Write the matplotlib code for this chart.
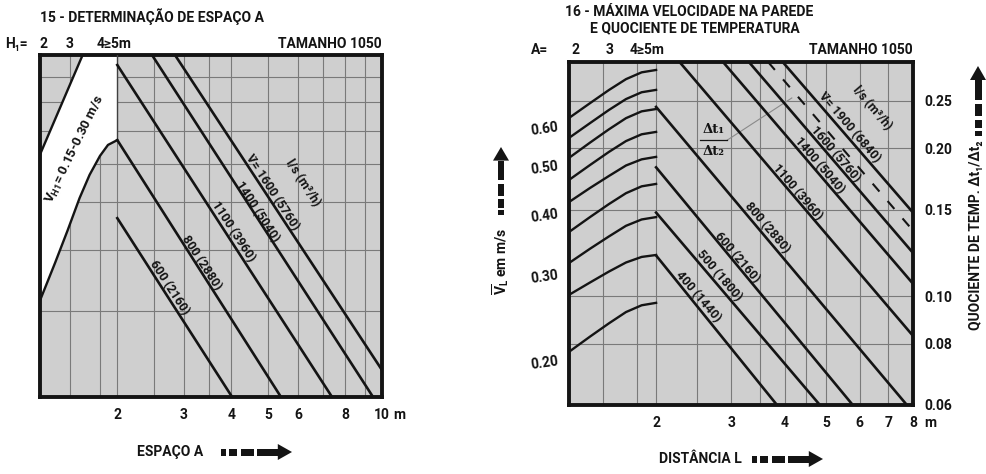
"""
Nomograms 15 and 16 (TAMANHO 1050): espaço A and max. wall velocity.
"""

import matplotlib.pyplot as plt
from matplotlib.patches import Polygon

plt.rcParams['font.family'] = ['Roboto', 'DejaVu Sans']
plt.rcParams['font.weight'] = 'bold'
plt.rcParams['mathtext.default'] = 'regular'

W, H = 986, 474

# ---- chart 15: espaco A ----
a_lim = [1.25, 10]
a_ticks = [2, 3, 4, 5, 6, 8, 10]
a_grid = [1.5, 1.8, 2, 2.5, 3, 3.5, 4, 5, 6, 7, 8, 9]
h_lim = [2, 10]
h_grid = [3, 4, 5, 6, 7, 8, 9]

# white band V_H1 = 0.15-0.30 m/s
band_x = [1.25, 1.62]
band_y = [6.26, 10]
band_curve_x = [1.25, 1.37, 1.48, 1.59, 1.69, 1.80, 1.89, 2.0]
band_curve_y = [3.15, 3.76, 4.39, 5.10, 5.69, 6.22, 6.55, 6.70]

flow15 = ['600 (2160)', '800 (2880)', '1100 (3960)', '1400 (5040)',
          'V\u0307= 1600 (5760)']
flow15_x0 = [2.0, 2.0, 2.0, 2.47, 2.84]
flow15_y0 = [4.64, 6.70, 9.54, 10, 10]
flow15_x1 = [4.02, 5.41, 7.38, 9.47, 10]
flow15_y1 = [2, 2, 2, 2, 2.27]
flow15_lx = [2.74, 3.33, 4.06, 4.70, 5.12]
flow15_ly = [3.34, 3.76, 4.35, 4.78, 5.25]

# ---- chart 16: max. velocidade / quociente ----
l_lim = [1.25, 8]
l_ticks = [2, 3, 4, 5, 6, 7, 8]
l_grid = [1.5, 1.8, 2, 2.5, 3, 3.5, 4, 4.5, 5, 6, 7]
q_lim = [0.06, 0.30]
q_ticks = [0.06, 0.08, 0.10, 0.15, 0.20, 0.25]
q_grid = [0.08, 0.10, 0.15, 0.20, 0.25]
v_ticks = [0.20, 0.30, 0.40, 0.50, 0.60]
v_per_q = 2.7

# curves left of L = 2 m
curve_x = [1.25, 1.4, 1.55, 1.7, 1.85, 2.0]
curve_a = [0.2307, 0.2473, 0.2630, 0.2768, 0.2858, 0.2890]
curve_b = [0.2101, 0.2252, 0.2395, 0.2521, 0.2603, 0.2632]
curve_c = [0.1913, 0.2055, 0.2187, 0.2305, 0.2380, 0.2406]
curve_d = [0.1725, 0.1850, 0.1967, 0.2070, 0.2137, 0.2161]
curve_e = [0.1555, 0.1661, 0.1757, 0.1846, 0.1900, 0.1922]
curve_f = [0.1351, 0.1449, 0.1540, 0.1621, 0.1674, 0.1693]
curve_g = [0.1168, 0.1249, 0.1323, 0.1391, 0.1433, 0.1449]
curve_h = [0.1006, 0.1066, 0.1122, 0.1171, 0.1202, 0.1213]
curve_i = [0.0770, 0.0827, 0.0880, 0.0928, 0.0958, 0.0969]

flow16 = ['400 (1440)', '500 (1800)', '600 (2160)', '800 (2880)',
          '1100 (3960)', '1400 (5040)', '1600 (5760)', 'V\u0307= 1900 (6840)']
flow16_x0 = [2.0, 2.0, 2.0, 2.0, 2.27, 2.87, 3.30, 3.96]
flow16_y0 = [0.121, 0.148, 0.183, 0.243, 0.30, 0.30, 0.30, 0.30]
flow16_x1 = [3.84, 4.84, 5.78, 7.74, 8, 8, 8, 8]
flow16_y1 = [0.06, 0.06, 0.06, 0.06, 0.083, 0.106, 0.1225, 0.148]
flow16_lx = [2.51, 2.81, 3.09, 3.64, 4.28, 4.84, 5.25, 5.69]
flow16_ly = [0.100, 0.110, 0.120, 0.138, 0.163, 0.185, 0.195, 0.221]
quot_x = [3.66, 8]
quot_y = [0.30, 0.136]

ink = '#141414'
gridc = '#7a7a7a'
bg = '#cfcfcf'


def box(px0, py0, px1, py1):
    return [px0 / W, 1 - py1 / H, (px1 - px0) / W, (py1 - py0) / H]


def ftext(px, py, s, **kw):
    kw.setdefault('fontsize', 10)
    kw.setdefault('va', 'center')
    fig.text(px / W, 1 - py / H, s, color=ink, **kw)


def dash_arrow(px, py, length, up=False):
    """Dashed block arrow, px/py = tail centre in pixels."""
    pieces = [(0, .07), (.11, .23), (.28, .46), (.51, .80)]
    half, head = 3.5, 8
    polys = []
    for a, b in pieces:
        polys.append([(a, -half), (b, -half), (b, half), (a, half)])
    polys.append([(.80, -head), (1.0, 0), (.80, head)])
    for pts in polys:
        if up:
            xy = [((px + o) / W, 1 - (py - t * length) / H) for t, o in pts]
        else:
            xy = [((px + t * length) / W, 1 - (py + o) / H) for t, o in pts]
        fig.add_artist(Polygon(xy, closed=True, color=ink, lw=0))


fig = plt.figure(figsize=(W / 100, H / 100), dpi=100)
ax15 = fig.add_axes(box(40, 55, 382, 397))
ax16 = fig.add_axes(box(569, 62, 913, 405))

for ax in (ax15, ax16):
    ax.set_facecolor(bg)
    ax.set_xscale('log')
    ax.set_yscale('log')
    for s in ax.spines.values():
        s.set_linewidth(2.8)
        s.set_color(ink)
    ax.tick_params(length=0, labelsize=10, pad=8, colors=ink)

# chart 15
ax15.set_xlim(a_lim)
ax15.set_ylim(h_lim)
for x in a_grid:
    ax15.axvline(x, color=gridc, lw=0.8, zorder=1)
for y in h_grid:
    ax15.axhline(y, color=gridc, lw=0.8, zorder=1)
ax15.fill(band_x + [2.0] + band_curve_x[::-1],
          band_y + [10] + band_curve_y[::-1], color='white', lw=0, zorder=2)
ax15.plot(band_x, band_y, color=ink, lw=1.7, zorder=3)
ax15.plot(band_curve_x, band_curve_y, color=ink, lw=1.7, zorder=3)
ax15.plot([2, 2], [band_curve_y[-1], 10], color='#404040', lw=1.0, zorder=3)
for i, lab in enumerate(flow15):
    ax15.plot([flow15_x0[i], flow15_x1[i]], [flow15_y0[i], flow15_y1[i]],
              color=ink, lw=1.9, zorder=3)
    ax15.text(flow15_lx[i], flow15_ly[i], lab, rotation=-57, fontsize=9,
              rotation_mode='anchor', ha='center', va='center', color=ink)
ax15.text(6.19, 5.47, 'l/s (m\u00b3/h)', rotation=-57, fontsize=9,
          rotation_mode='anchor', ha='center', va='center', color=ink)
ax15.text(1.547, 6.40, 'V$_{H1}$= 0.15-0.30 m/s', rotation=64, fontsize=9.5,
          rotation_mode='anchor', ha='center', va='center', color=ink)
ax15.set_xticks(a_ticks, [str(t) for t in a_ticks])
ax15.set_yticks([])
ax15.minorticks_off()
ax15.annotate('m', (10, 2), xytext=(8, -8), textcoords='offset points',
              ha='left', va='top', fontsize=10, color=ink)

# chart 16
ax16.set_xlim(l_lim)
ax16.set_ylim(q_lim)
for x in l_grid:
    ax16.axvline(x, color=gridc, lw=0.8, zorder=1)
for y in q_grid:
    ax16.axhline(y, color=gridc, lw=0.8, zorder=1)
for c in (curve_a, curve_b, curve_c, curve_d, curve_e, curve_f,
          curve_g, curve_h, curve_i):
    ax16.plot(curve_x, c, color=ink, lw=1.7, zorder=3)
for i, lab in enumerate(flow16):
    ax16.plot([flow16_x0[i], flow16_x1[i]], [flow16_y0[i], flow16_y1[i]],
              color=ink, lw=1.9, zorder=3)
    ax16.text(flow16_lx[i], flow16_ly[i], lab, rotation=-49.5, fontsize=9,
              rotation_mode='anchor', ha='center', va='center', color=ink)
ax16.plot(quot_x, quot_y, color=ink, lw=1.5, dashes=(5, 6), zorder=3)
ax16.text(6.41, 0.2417, 'l/s (m\u00b3/h)', rotation=-49.5, fontsize=9,
          rotation_mode='anchor', ha='center', va='center', color=ink)
ax16.text(2.73, 0.2182, '\u0394t\u2081', fontsize=9.5, ha='center',
          va='center', family=['DejaVu Serif'], color=ink)
ax16.text(2.73, 0.1967, '\u0394t\u2082', fontsize=9.5, ha='center',
          va='center', family=['DejaVu Serif'], color=ink)
ax16.plot([2.53, 2.93], [0.2077, 0.2077], color=ink, lw=0.9, zorder=3)
ax16.plot([2.93, 4.16], [0.2077, 0.2534], color='#8a8a8a', lw=0.8, zorder=2)
ax16.set_xticks(l_ticks, [str(t) for t in l_ticks])
ax16.yaxis.tick_right()
ax16.set_yticks(q_ticks, ['%.2f' % t for t in q_ticks])
ax16.minorticks_off()
ax16.annotate('m', (8, 0.06), xytext=(8, -8), textcoords='offset points',
              ha='left', va='top', fontsize=10, color=ink)
vax = ax16.secondary_yaxis('left', functions=(lambda q: q * v_per_q,
                                               lambda v: v / v_per_q))
vax.set_yticks(v_ticks, ['%.2f' % t for t in v_ticks])
vax.minorticks_off()
vax.tick_params(length=0, labelsize=10, pad=7, colors=ink,
                labelrotation=8)
vax.spines['left'].set_visible(False)

# titles and headers
ftext(40, 17, '15 - DETERMINA\u00c7\u00c3O DE ESPA\u00c7O A')
ftext(5, 44, 'H\u2081=')
ftext(43, 44, '2', ha='center')
ftext(70, 44, '3', ha='center')
ftext(97, 44, '4\u22655m')
ftext(382, 44, 'TAMANHO 1050', ha='right')
ftext(565, 12, '16 - M\u00c1XIMA VELOCIDADE NA PAREDE')
ftext(590, 28, 'E QUOCIENTE DE TEMPERATURA')
ftext(531, 50, 'A=')
ftext(575, 50, '2', ha='center')
ftext(610, 50, '3', ha='center')
ftext(630, 50, '4\u22655m')
ftext(913, 50, 'TAMANHO 1050', ha='right')

# axis names with arrows
ftext(203, 452, 'ESPA\u00c7O A', ha='right')
dash_arrow(221, 452, 71)
ftext(742, 459, 'DIST\u00c2NCIA L', ha='right')
dash_arrow(752, 459, 71)
ftext(501, 228, '$\\overline{V}_L$ em m/s', ha='center', va='top',
      rotation=90)
dash_arrow(501, 215, 68, up=True)
ftext(976, 140, 'QUOCIENTE DE TEMP. \u0394t\u2081/\u0394t\u2082', ha='center',
      va='top', rotation=90)
dash_arrow(978, 136, 70, up=True)

fig.savefig('out.png', dpi=100)
